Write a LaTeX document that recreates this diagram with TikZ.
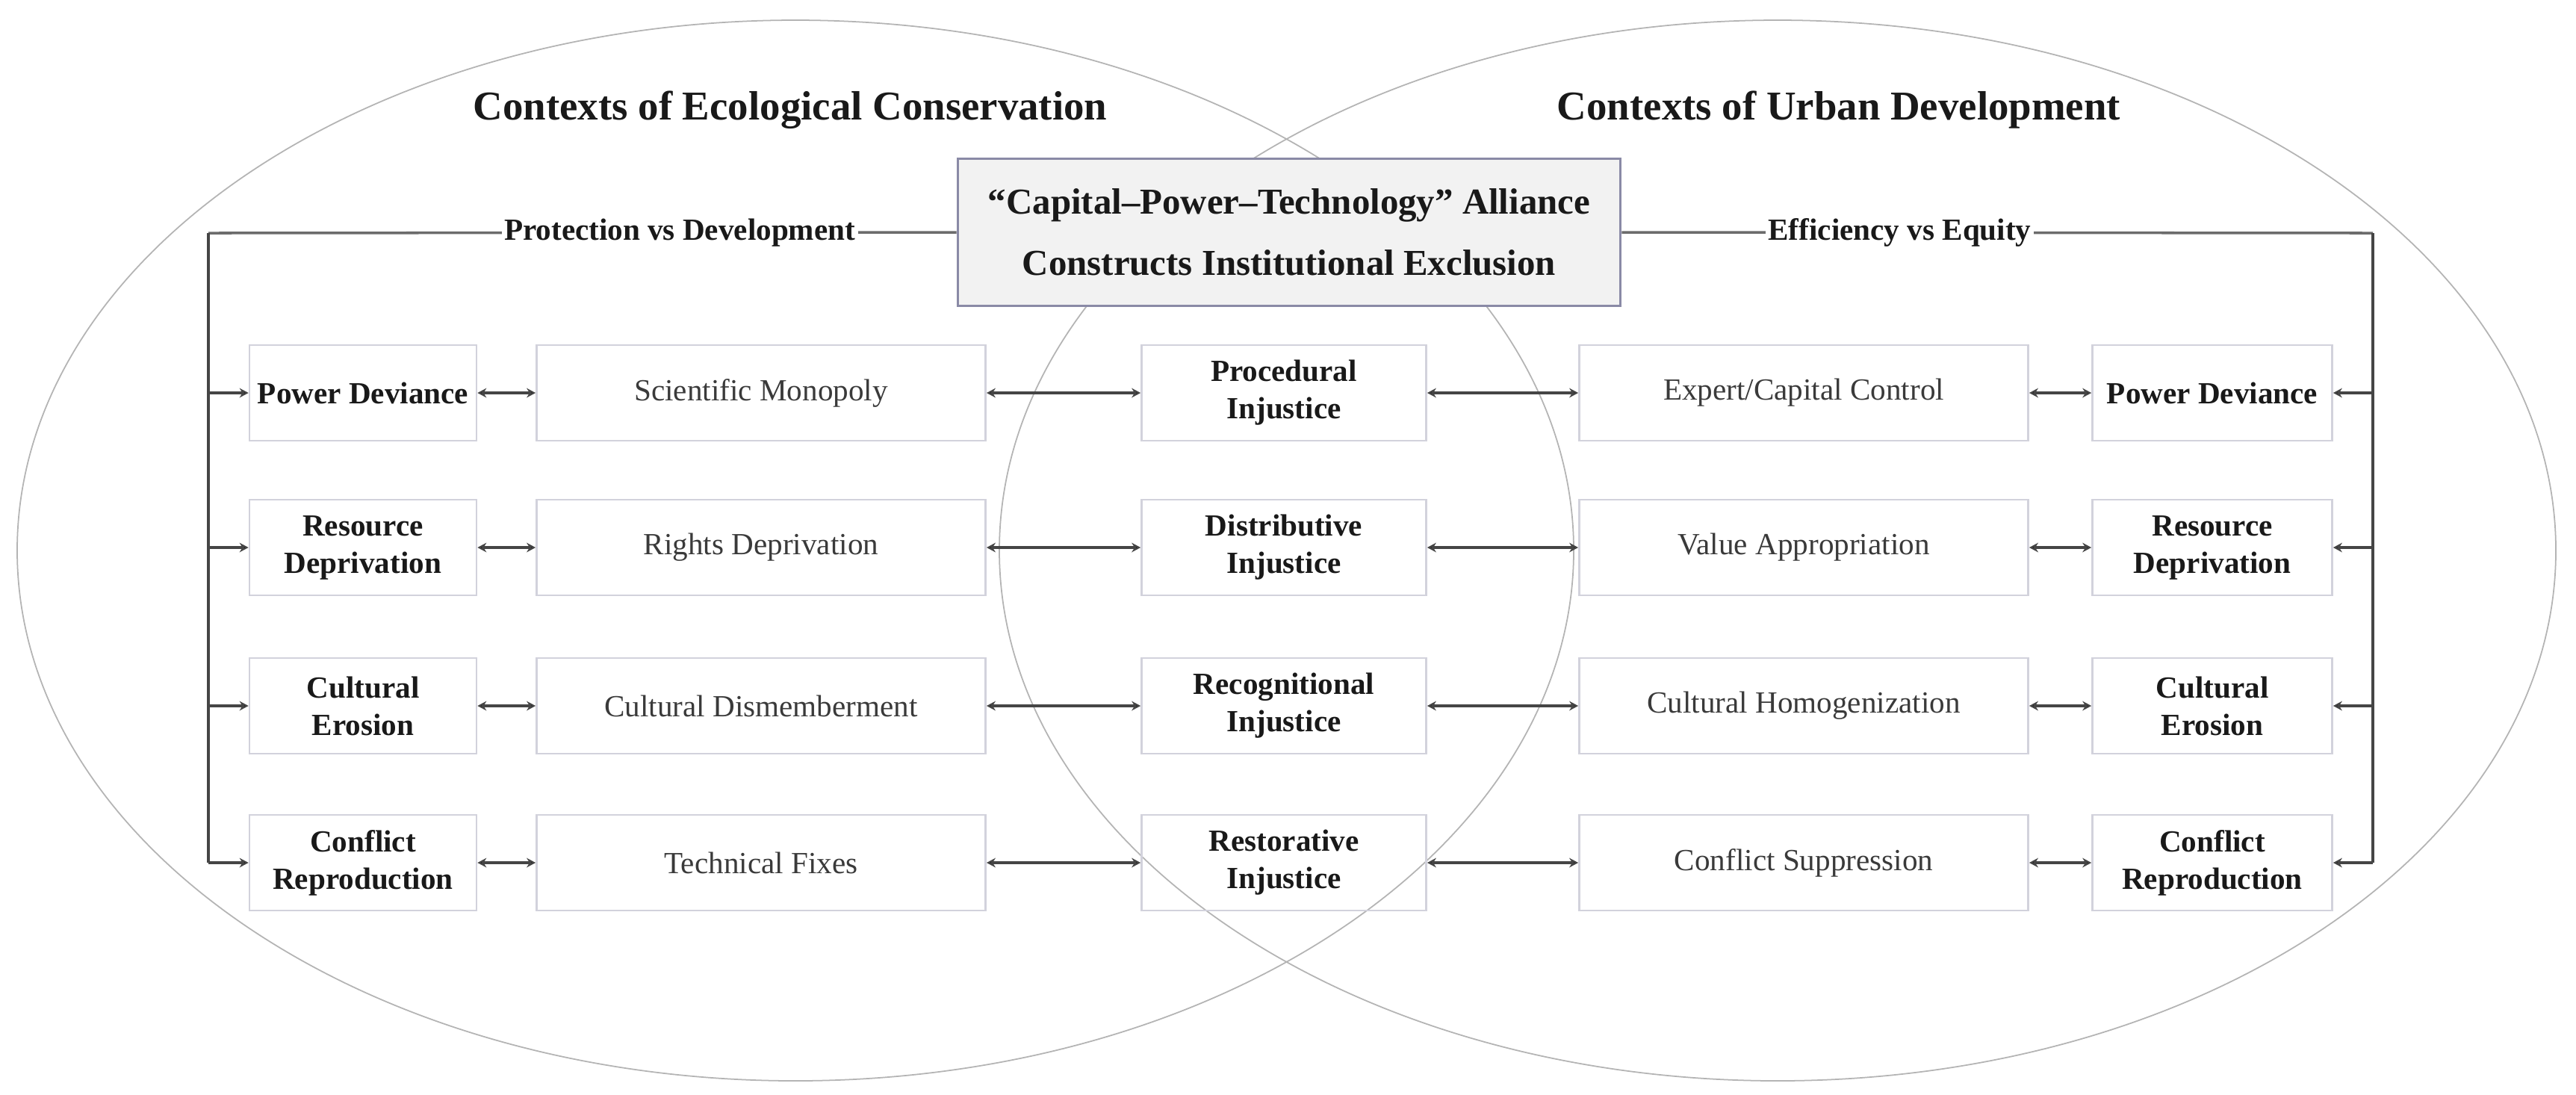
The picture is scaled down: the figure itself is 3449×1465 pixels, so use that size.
\documentclass[tikz,border=0pt]{standalone}
\usepackage{fontspec}
\setmainfont{Liberation Serif}
\usetikzlibrary{arrows.meta}

\definecolor{ringgray}{HTML}{B4B4B4}
\definecolor{boxgray}{HTML}{D2D2DC}
\definecolor{headline}{HTML}{8A8AA6}
\definecolor{headfill}{HTML}{F2F2F2}
\definecolor{wiregray}{HTML}{454545}
\definecolor{textgray}{HTML}{3A3A3A}

\begin{document}
\begin{tikzpicture}[x=0.01cm, y=-0.01cm, >={Stealth[length=3.4pt,width=3.6pt]}]
	\tikzstyle{ring} = [draw=ringgray, line width=0.5pt]
	\tikzstyle{title} = [font=\fontsize{15.6}{18}\selectfont\bfseries, text=black!90]
	\tikzstyle{head} = [draw=headline, fill=headfill, line width=0.9pt,
	minimum width=8.87cm, minimum height=1.97cm, align=center, inner sep=0pt,
	font=\fontsize{13.9}{23.3}\selectfont\bfseries, text=black!90]
	\tikzstyle{tag} = [fill=white, inner sep=1pt,
	font=\fontsize{11.7}{14}\selectfont\bfseries, text=black!90]
	\tikzstyle{side} = [draw=boxgray, line width=0.7pt, minimum width=3.04cm,
	minimum height=1.28cm, align=center, inner sep=0pt,
	font=\fontsize{11.7}{14.2}\selectfont\bfseries, text=black!90]
	\tikzstyle{link} = [draw=boxgray, line width=0.7pt, minimum width=6.01cm,
	minimum height=1.28cm, align=center, inner sep=0pt,
	font=\fontsize{11.7}{14.2}\selectfont, text=textgray]
	\tikzstyle{core} = [side, minimum width=3.81cm]
	\tikzstyle{wire} = [draw=wiregray, line width=0.9pt]
	\tikzstyle{spine} = [draw=gray!85!black, line width=1pt]

	\useasboundingbox (0,0) rectangle (3449,1465);

	% the two contexts
	\draw[ring] (1065,737) ellipse [x radius=1042, y radius=710];
	\draw[ring] (2380,737) ellipse [x radius=1042, y radius=710];

	\begin{scope}
		\path
			node[title] (E) at (1058,147) {Contexts of Ecological Conservation}
			node[title] (U) at (2462,147) {Contexts of Urban Development}

			node[head] (T) at (1726,311) {“Capital–Power–Technology” Alliance\\Constructs Institutional Exclusion}

			coordinate (PL) at (279,312)
			coordinate (PR) at (3177,312)

			% ecological side
			node[side] (L1) at (486,526) {Power Deviance}
			node[side] (L2) at (486,733) {Resource\\Deprivation}
			node[side] (L3) at (486,945) {Cultural\\Erosion}
			node[side] (L4) at (486,1155) {Conflict\\Reproduction}

			node[link] (M1) at (1019,526) {Scientific Monopoly}
			node[link] (M2) at (1019,733) {Rights Deprivation}
			node[link] (M3) at (1019,945) {Cultural Dismemberment}
			node[link] (M4) at (1019,1155) {Technical Fixes}

			% injustices
			node[core] (C1) at (1719,526) {Procedural\\Injustice}
			node[core] (C2) at (1719,733) {Distributive\\Injustice}
			node[core] (C3) at (1719,945) {Recognitional\\Injustice}
			node[core] (C4) at (1719,1155) {Restorative\\Injustice}

			% urban side
			node[link] (N1) at (2415,526) {Expert/Capital Control}
			node[link] (N2) at (2415,733) {Value Appropriation}
			node[link] (N3) at (2415,945) {Cultural Homogenization}
			node[link] (N4) at (2415,1155) {Conflict Suppression}

			node[side, minimum width=3.21cm] (R1) at (2962,526) {Power Deviance}
			node[side, minimum width=3.21cm] (R2) at (2962,733) {Resource\\Deprivation}
			node[side, minimum width=3.21cm] (R3) at (2962,945) {Cultural\\Erosion}
			node[side, minimum width=3.21cm] (R4) at (2962,1155) {Conflict\\Reproduction}
		;

		\path[wire]
			(T.west) edge[spine] node[tag, pos=0.37] {Protection vs Development} (PL)
			(T.east) edge[spine] node[tag, pos=0.37] {Efficiency vs Equity} (PR)
			(PL) edge (PL |- L4)
			(PR) edge (PR |- R4)

			(PL |- L1) edge[->] (L1)
			(PL |- L2) edge[->] (L2)
			(PL |- L3) edge[->] (L3)
			(PL |- L4) edge[->] (L4)

			(L1) edge[<->] (M1)
			(L2) edge[<->] (M2)
			(L3) edge[<->] (M3)
			(L4) edge[<->] (M4)

			(M1) edge[<->] (C1)
			(M2) edge[<->] (C2)
			(M3) edge[<->] (C3)
			(M4) edge[<->] (C4)

			(C1) edge[<->] (N1)
			(C2) edge[<->] (N2)
			(C3) edge[<->] (N3)
			(C4) edge[<->] (N4)

			(N1) edge[<->] (R1)
			(N2) edge[<->] (R2)
			(N3) edge[<->] (R3)
			(N4) edge[<->] (R4)

			(PR |- R1) edge[->] (R1)
			(PR |- R2) edge[->] (R2)
			(PR |- R3) edge[->] (R3)
			(PR |- R4) edge[->] (R4)
		;
	\end{scope}
\end{tikzpicture}
\end{document}
